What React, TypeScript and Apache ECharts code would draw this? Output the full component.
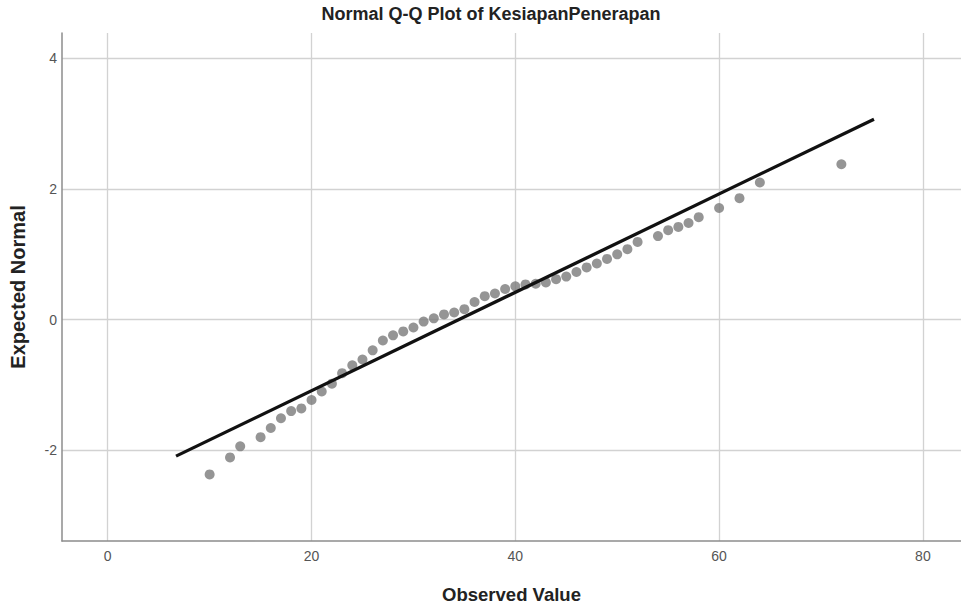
import React, { useEffect, useRef } from "react";
import * as echarts from "echarts";

const observed = [10, 12, 13, 15, 16, 17, 18, 19, 20, 21, 22, 23, 24, 25, 26, 27, 28, 29, 30, 31, 32, 33, 34, 35, 36, 37, 38, 39, 40, 41, 42, 43, 44, 45, 46, 47, 48, 49, 50, 51, 52, 54, 55, 56, 57, 58, 60, 62, 64, 72];
const expected = [-2.37, -2.11, -1.94, -1.8, -1.66, -1.51, -1.4, -1.36, -1.23, -1.1, -0.98, -0.82, -0.7, -0.61, -0.47, -0.32, -0.24, -0.18, -0.12, -0.03, 0.02, 0.08, 0.11, 0.16, 0.27, 0.36, 0.4, 0.47, 0.51, 0.54, 0.55, 0.57, 0.62, 0.66, 0.73, 0.8, 0.86, 0.93, 1.0, 1.08, 1.19, 1.28, 1.37, 1.42, 1.48, 1.57, 1.71, 1.86, 2.1, 2.38];
const lineX = [6.7, 75.2];
const lineY = [-2.09, 3.07];

const titleText = "Normal Q-Q Plot of KesiapanPenerapan";
const xName = "Observed Value";
const yName = "Expected Normal";

const FONT = "'Liberation Sans Narrow', 'Liberation Sans', Arial, sans-serif";

export default function App() {
  const ref = useRef<HTMLDivElement>(null);
  useEffect(() => {
    document.body.style.margin = "0";
    const chart = echarts.init(ref.current!, null, { renderer: "svg" });
    chart.setOption({
      animation: false,
      backgroundColor: "#ffffff",
      textStyle: { fontFamily: FONT },
      title: {
        text: titleText,
        left: 486,
        top: 0,
        textAlign: "center",
        textStyle: { fontFamily: FONT, fontSize: 18, fontWeight: "bold", color: "#222" },
      },
      grid: { left: 62, top: 33, right: 0, bottom: 68, containLabel: false },
      xAxis: {
        type: "value",
        min: -4.49,
        max: 83.74,
        splitNumber: 5,
        name: xName,
        nameLocation: "middle",
        nameGap: 44,
        nameTextStyle: { fontFamily: FONT, fontSize: 18.5, fontWeight: "bold", color: "#222" },
        axisLine: { show: true, onZero: false, lineStyle: { color: "#8c8c8c", width: 1.5 } },
        axisTick: { show: false },
        axisLabel: {
          showMinLabel: false,
          showMaxLabel: false,
          fontFamily: FONT,
          fontSize: 14,
          color: "#555",
          margin: 8,
        },
        splitLine: { show: true, showMinLine: false, showMaxLine: false, lineStyle: { color: "#d2d2d2", width: 1.3 } },
      },
      yAxis: {
        type: "value",
        min: -3.39,
        max: 4.39,
        splitNumber: 4,
        name: yName,
        nameLocation: "middle",
        nameGap: 34,
        nameRotate: 90,
        nameTextStyle: { fontFamily: FONT, fontSize: 20, fontWeight: "bold", color: "#222" },
        axisLine: { show: true, onZero: false, lineStyle: { color: "#8c8c8c", width: 1.5 } },
        axisTick: { show: false },
        axisLabel: {
          showMinLabel: false,
          showMaxLabel: false,
          fontFamily: FONT,
          fontSize: 14,
          color: "#555",
          margin: 5,
        },
        splitLine: { show: true, showMinLine: false, showMaxLine: false, lineStyle: { color: "#d2d2d2", width: 1.3 } },
      },
      series: [
        {
          type: "scatter",
          data: observed.map((x, i) => [x, expected[i]]),
          symbol: "circle",
          symbolSize: 10,
          itemStyle: { color: "#7b7b7b" },
          z: 3,
        },
        {
          type: "line",
          data: lineX.map((x, i) => [x, lineY[i]]),
          showSymbol: false,
          symbol: "none",
          lineStyle: { color: "#111111", width: 3.3 },
          z: 4,
        },
      ],
    });
    return () => chart.dispose();
  }, []);
  return <div ref={ref} style={{ width: 961, height: 609 }} />;
}
